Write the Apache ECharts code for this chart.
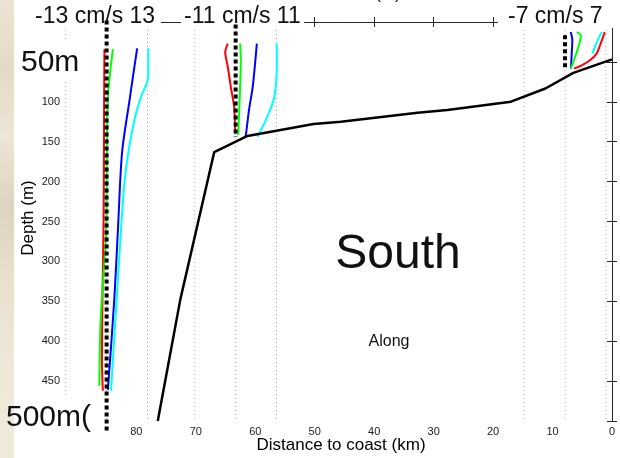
<!DOCTYPE html>
<html>
<head>
<meta charset="utf-8">
<script src="https://cdn.jsdelivr.net/npm/echarts@6/dist/echarts.min.js"></script>
<style>
  html, body { margin: 0; padding: 0; background: #fff; }
  #chart { width: 620px; height: 458px; }
</style>
</head>
<body>
<div id="chart"></div>
<script>
// Shelf bathymetry along the section (distance to coast in km, depth in m)
const bathyKm    = [76.4, 72.6, 66.9, 61.3, 50.2, 45.6, 32.7, 27.7, 17.0, 11.2, 6.5, 0];
const bathyDepth = [500, 347.6, 163, 142.8, 127.8, 125, 113.8, 110.4, 99.8, 83.3, 63.8, 46.9];

// Mooring stations: position, speed scale (cm/s) and extent of the zero line
const stationKm    = [85.0, 63.3, 7.9];
const speedLimit   = [13, 11, 7];
const zeroTop      = [-2, 3, 16.5];
const zeroBottom   = [514, 144, 58];
const halfWidthKm  = 6.88;   // a full-scale speed spans this many km on the section

// Along-shore velocity profiles (depth m / speed cm/s), station 1
const s1RedDepth   = [34, 100, 200, 259, 340, 423, 462];
const s1RedSpeed   = [-0.7, -0.8, -0.9, -1.0, -1.3, -1.5, -1.2];
const s1GreenDepth = [34, 60, 94, 150, 259, 300, 373, 420, 456];
const s1GreenSpeed = [2.0, 1.2, 0.4, 0.1, -0.1, -0.7, -1.9, -2.2, -2.3];
const s1BlueDepth  = [33, 100, 164, 260, 350, 461];
const s1BlueSpeed  = [9.7, 7.2, 4.9, 3.6, 2.4, 0.4];
const s1CyanDepth  = [33, 60, 75, 94, 120, 156, 200, 259, 360, 462];
const s1CyanSpeed  = [13.25, 13.25, 12.9, 10.9, 9.0, 7.2, 5.7, 4.6, 3.0, 1.4];

// station 2
const s2RedDepth   = [27, 37.6, 56.4, 81.4, 106.4, 125, 139.6];
const s2RedSpeed   = [-2.1, -2.8, -2.1, -1.3, -0.4, -0.2, -0.1];
const s2GreenDepth = [27, 48, 106, 142];
const s2GreenSpeed = [1.2, 1.4, 1.0, 0.7];
const s2BlueDepth  = [27, 81, 110, 140, 144];
const s2BlueSpeed  = [5.7, 4.6, 3.6, 2.8, 2.6];
const s2CyanDepth  = [27, 48, 94, 123, 144];
const s2CyanSpeed  = [11.0, 11.1, 10.4, 8.1, 5.9];

// station 3
const s3BlueDepth  = [12.6, 23, 39.6, 58.4];
const s3BlueSpeed  = [0.97, 1.25, 1.14, 1.02];
const s3GreenDepth = [12.6, 16.8, 31.4, 50.1, 58.4];
const s3GreenSpeed = [2.0, 2.7, 2.28, 1.42, 0.97];
const s3CyanDepth  = [12.6, 20.9, 31.4, 39.6];
const s3CyanSpeed  = [6.3, 5.7, 5.1, 4.7];
const s3RedDepth   = [12.6, 18.9, 29.3, 39.6, 48, 54.3, 58.4];
const s3RedSpeed   = [6.8, 6.5, 5.98, 5.4, 4.27, 2.85, 1.54];

const COLORS = { red: '#ff0000', green: '#00ff00', blue: '#0000ff', cyan: '#00ffff' };

const profiles = [
  { st: 0, c: 'red',   d: s1RedDepth,   v: s1RedSpeed },
  { st: 0, c: 'green', d: s1GreenDepth, v: s1GreenSpeed },
  { st: 0, c: 'blue',  d: s1BlueDepth,  v: s1BlueSpeed },
  { st: 0, c: 'cyan',  d: s1CyanDepth,  v: s1CyanSpeed },
  { st: 1, c: 'red',   d: s2RedDepth,   v: s2RedSpeed },
  { st: 1, c: 'green', d: s2GreenDepth, v: s2GreenSpeed },
  { st: 1, c: 'blue',  d: s2BlueDepth,  v: s2BlueSpeed },
  { st: 1, c: 'cyan',  d: s2CyanDepth,  v: s2CyanSpeed },
  { st: 2, c: 'blue',  d: s3BlueDepth,  v: s3BlueSpeed },
  { st: 2, c: 'green', d: s3GreenDepth, v: s3GreenSpeed },
  { st: 2, c: 'cyan',  d: s3CyanDepth,  v: s3CyanSpeed },
  { st: 2, c: 'red',   d: s3RedDepth,   v: s3RedSpeed }
];

// speed -> position on the distance axis (offshore is larger km, drawn left)
function speedToKm(st, v) {
  return stationKm[st] - v / speedLimit[st] * halfWidthKm;
}

const series = [];

// light dotted guide lines at -limit, 0, +limit for each station
stationKm.forEach(function (km) {
  [km + halfWidthKm, km, km - halfWidthKm].forEach(function (g) {
    series.push({
      type: 'line', z: 1, silent: true, showSymbol: false,
      data: [[g, 0], [g, 500]],
      lineStyle: { color: '#a8a8a8', width: 1, type: [1, 3] }
    });
  });
});

// thick zero lines
stationKm.forEach(function (km, i) {
  series.push({
    type: 'line', z: 5, silent: true, showSymbol: false, clip: false,
    data: [[km, zeroTop[i]], [km, zeroBottom[i]]],
    lineStyle: { color: '#000', width: 4, type: [4, 3] }
  });
});

// velocity profiles
profiles.forEach(function (p) {
  series.push({
    type: 'line', z: 4, silent: true, showSymbol: false, smooth: 0.3,
    data: p.d.map(function (dep, k) { return [speedToKm(p.st, p.v[k]), dep]; }),
    lineStyle: { color: COLORS[p.c], width: 2 }
  });
});

// bottom profile
series.push({
  type: 'line', z: 4, silent: true, showSymbol: false,
  data: bathyKm.map(function (k, i) { return [k, bathyDepth[i]]; }),
  lineStyle: { color: '#000', width: 2.5 }
});

const axisCol = '#262626';
const font = 'Liberation Sans, Arial, Helvetica, sans-serif';

const option = {
  animation: false,
  backgroundColor: '#fff',
  grid: { left: 65, right: 8, top: 22, bottom: 37, containLabel: false, outerBoundsMode: 'none' },
  xAxis: [{
    type: 'value', min: 0, max: 92, interval: 10, inverse: true, position: 'bottom',
    axisLine: { show: true, lineStyle: { color: axisCol, width: 1 } },
    axisTick: { show: true, inside: true, length: 5, lineStyle: { color: axisCol } },
    axisLabel: { fontSize: 11, color: '#222', margin: 5, fontFamily: font, showMaxLabel: false },
    splitLine: { show: false }
  }, {
    type: 'value', min: 0, max: 92, interval: 10, inverse: true, position: 'top',
    axisLine: { show: true, lineStyle: { color: axisCol, width: 1 } },
    axisTick: { show: true, inside: true, length: 5, lineStyle: { color: axisCol } },
    axisLabel: { show: false }, splitLine: { show: false }
  }],
  yAxis: [{
    type: 'value', min: 0, max: 500, interval: 50, inverse: true, position: 'left',
    axisLine: { show: true, lineStyle: { color: axisCol, width: 1 } },
    axisTick: { show: true, inside: true, length: 5, lineStyle: { color: axisCol } },
    axisLabel: { fontSize: 11, color: '#222', margin: 5, fontFamily: font },
    splitLine: { show: false }
  }, {
    type: 'value', min: 0, max: 500, interval: 50, inverse: true, position: 'right',
    axisLine: { show: true, lineStyle: { color: axisCol, width: 1 } },
    axisTick: { show: true, inside: true, length: 5, lineStyle: { color: axisCol } },
    axisLabel: { show: false }, splitLine: { show: false }
  }],
  graphic: [
    // textured strip on the left edge
    { type: 'rect', z: 0, silent: true, shape: { x: 0, y: 0, width: 14, height: 458 },
      style: { fill: new echarts.graphic.LinearGradient(0, 0, 0, 1, [
        { offset: 0, color: '#ece4d2' }, { offset: 0.15, color: '#e3dac6' },
        { offset: 0.3, color: '#ede6d4' }, { offset: 0.45, color: '#ddd3bf' },
        { offset: 0.6, color: '#e8e0cc' }, { offset: 0.8, color: '#efe8d8' },
        { offset: 1, color: '#f0ead9' }]) } },
    // axis titles
    { type: 'text', z: 3, silent: true, x: 28, y: 218, rotation: Math.PI / 2,
      style: { x: 0, y: 0, text: 'Depth (m)', font: '17px ' + font, fill: '#000', textAlign: 'center', textVerticalAlign: 'middle' } },
    { type: 'text', z: 3, silent: true,
      style: { x: 341, y: 445, text: 'Distance to coast (km)', font: '17px ' + font, fill: '#000', textAlign: 'center', textVerticalAlign: 'middle' } },
    // white label boxes
    { type: 'rect', z: 2, silent: true, shape: { x: 30, y: 0, width: 131, height: 28 }, style: { fill: '#fff' } },
    { type: 'rect', z: 2, silent: true, shape: { x: 181, y: 0, width: 123, height: 28 }, style: { fill: '#fff' } },
    { type: 'rect', z: 2, silent: true, shape: { x: 498, y: 0, width: 122, height: 28 }, style: { fill: '#fff' } },
    { type: 'rect', z: 2, silent: true, shape: { x: 18, y: 42, width: 68, height: 38 }, style: { fill: '#fff' } },
    { type: 'rect', z: 2, silent: true, shape: { x: 14, y: 397, width: 83, height: 48 }, style: { fill: '#fff' } },
    { type: 'text', z: 3, silent: true, style: { x: 388, y: 3, text: '(m)', font: '17px ' + font, fill: '#111', textAlign: 'center', textVerticalAlign: 'bottom' } },
    { type: 'text', z: 3, silent: true, style: { x: 35, y: 17, text: '-13 cm/s 13', font: '23px ' + font, fill: '#111', textVerticalAlign: 'middle' } },
    { type: 'text', z: 3, silent: true, style: { x: 184, y: 17, text: '-11 cm/s 11', font: '23px ' + font, fill: '#111', textVerticalAlign: 'middle' } },
    { type: 'text', z: 3, silent: true, style: { x: 508, y: 17, text: '-7 cm/s 7', font: '23px ' + font, fill: '#111', textVerticalAlign: 'middle' } },
    { type: 'text', z: 3, silent: true, style: { x: 21, y: 63, text: '50m', font: '30px ' + font, fill: '#111', textVerticalAlign: 'middle' } },
    { type: 'text', z: 3, silent: true, style: { x: 6, y: 418, text: '500m(', font: '30px ' + font, fill: '#111', textVerticalAlign: 'middle' } },
    { type: 'text', z: 3, silent: true, style: { x: 398, y: 255, text: 'South', font: '48px ' + font, fill: '#111', textAlign: 'center', textVerticalAlign: 'middle' } },
    { type: 'text', z: 3, silent: true, style: { x: 389, y: 342, text: 'Along', font: '16px ' + font, fill: '#111', textAlign: 'center', textVerticalAlign: 'middle' } }
  ],
  series: series
};

const chart = echarts.init(document.getElementById('chart'), null, { renderer: 'canvas' });
chart.setOption(option);
</script>
</body>
</html>
